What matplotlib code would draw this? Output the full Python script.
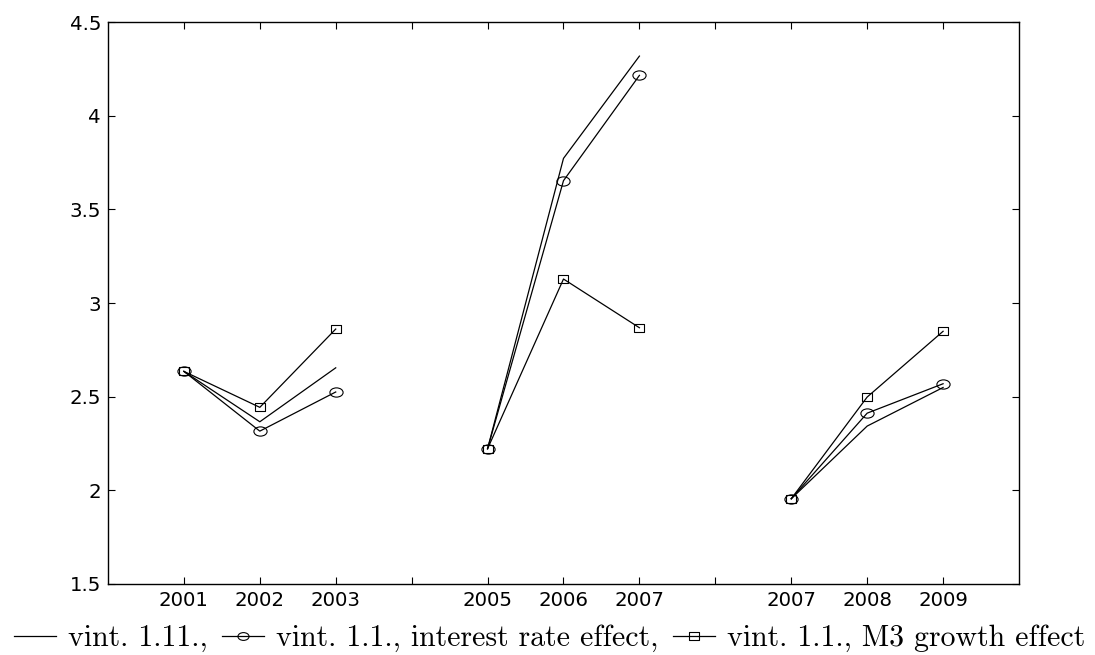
import matplotlib
matplotlib.use('Agg')
import matplotlib.pyplot as plt
from matplotlib.lines import Line2D
from matplotlib.path import Path
from matplotlib.transforms import Affine2D
from matplotlib.ticker import FuncFormatter

# positions on the axis and the year labels under them
xpos = [1, 2, 3, 4, 5, 6, 7, 8, 9, 10, 11]
xlab = ['2001', '2002', '2003', '', '2005', '2006', '2007', '', '2007', '2008', '2009']

# three forecast windows
grp_x = [[1, 2, 3], [5, 6, 7], [9, 10, 11]]

# vint. 1.11.
vint111 = [[2.635, 2.366, 2.654], [2.222, 3.772, 4.318], [1.955, 2.343, 2.549]]
# vint. 1.1., interest rate effect
vint11_ir = [[2.635, 2.316, 2.525], [2.222, 3.653, 4.215], [1.955, 2.412, 2.569]]
# vint. 1.1., M3 growth effect
vint11_m3 = [[2.635, 2.443, 2.861], [2.222, 3.128, 2.868], [1.955, 2.498, 2.849]]

# the original markers are a bit squashed (wider than tall)
oval = Path.unit_circle().transformed(Affine2D().scale(1.0, 0.7))
rect = Path([(-1, -0.8), (1, -0.8), (1, 0.8), (-1, 0.8), (-1, -0.8)],
            [Path.MOVETO, Path.LINETO, Path.LINETO, Path.LINETO, Path.CLOSEPOLY])

fig = plt.figure(figsize=(10.95, 6.55), dpi=100)
ax = fig.add_axes([0.0986, 0.1084, 0.832, 0.858])

lw = 0.9
for i in range(3):
    ax.plot(grp_x[i], vint111[i], color='k', lw=lw)
    ax.plot(grp_x[i], vint11_ir[i], color='k', lw=lw, marker=oval, ms=9.5,
            mfc='none', mec='k', mew=0.8)
    ax.plot(grp_x[i], vint11_m3[i], color='k', lw=lw, marker=rect, ms=7.3,
            mfc='none', mec='k', mew=0.8)

ax.set_xlim(0, 12)
ax.set_ylim(1.5, 4.5)
ax.set_xticks(xpos)
ax.set_xticklabels(xlab)
ax.set_yticks([1.5, 2, 2.5, 3, 3.5, 4, 4.5])
ax.yaxis.set_major_formatter(FuncFormatter(lambda v, p: '%g' % v))
ax.tick_params(direction='in', length=5, width=0.8, top=True, right=True,
               labelsize=14.2)
ax.tick_params(axis='x', pad=5)
ax.tick_params(axis='y', pad=5)
for s in ax.spines.values():
    s.set_linewidth(1.0)

# legend line under the plot
h1 = Line2D([], [], color='k', lw=lw)
h2 = Line2D([], [], color='k', lw=lw, marker=oval, ms=8, mfc='none', mew=0.8)
h3 = Line2D([], [], color='k', lw=lw, marker=rect, ms=7, mfc='none', mew=0.8)
fig.legend([h1, h2, h3],
           ['vint. 1.11.,', 'vint. 1.1., interest rate effect,', 'vint. 1.1., M3 growth effect'],
           loc='center', bbox_to_anchor=(0.502, 0.025), ncol=3, frameon=False,
           handlelength=1.4, handletextpad=0.4, columnspacing=0.5,
           borderaxespad=0, borderpad=0,
           prop={'family': 'cmr10', 'size': 21.5})

plt.savefig('out.png', dpi=100)
